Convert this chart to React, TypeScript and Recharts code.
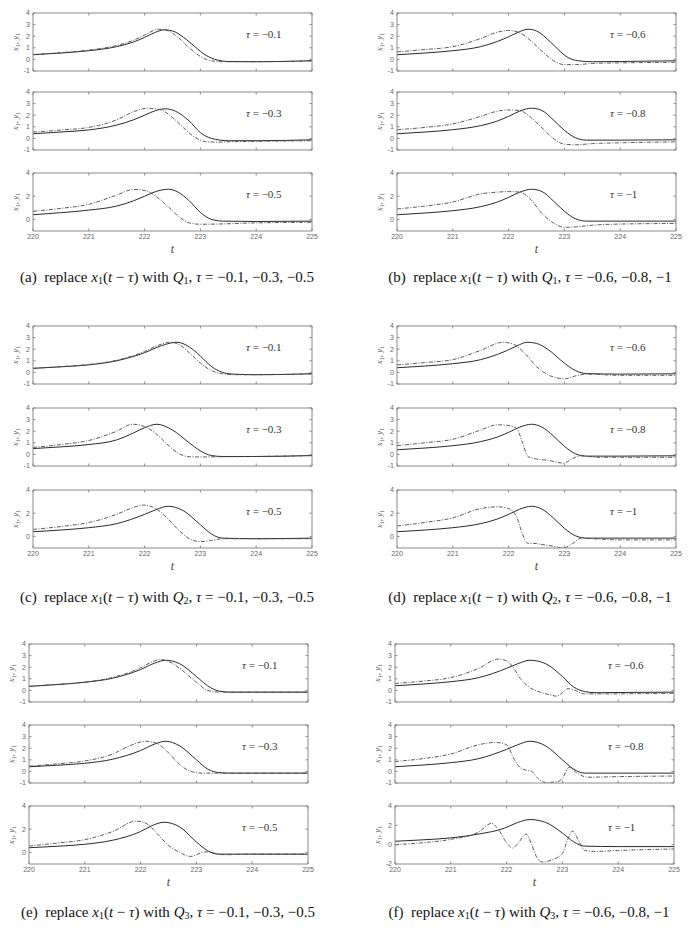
import React from 'react';
import { LineChart, Line, XAxis, YAxis } from 'recharts';

type Pt = [number, number];

const T_TICKS = [220, 221, 222, 223, 224, 225];
const Y_TICKS = [-1, 0, 1, 2, 3, 4];
const Y_TICKS_SPARSE = [0, 2, 4];
const Y_TICKS_WIDE = [-2, 0, 2, 4];
const TAUS_LOW = ['−0.1', '−0.3', '−0.5'];
const TAUS_HIGH = ['−0.6', '−0.8', '−1'];

// (a) Q1, tau = -0.1, -0.3, -0.5   (X = x1 solid, Y = y1 dash-dot)
const A1X: Pt[] = [[220, 0.4], [220.5, 0.55], [221, 0.75], [221.5, 1.1], [221.8, 1.5], [222, 1.9], [222.2, 2.35], [222.35, 2.55], [222.5, 2.45], [222.7, 1.9], [222.9, 1.1], [223.1, 0.35], [223.3, -0.05], [223.5, -0.18], [224, -0.2], [225, -0.12]];
const A1Y: Pt[] = [[220, 0.42], [220.5, 0.58], [221, 0.8], [221.5, 1.2], [221.8, 1.65], [222, 2.1], [222.25, 2.6], [222.4, 2.5], [222.6, 1.9], [222.8, 1.0], [223, 0.25], [223.2, -0.12], [223.4, -0.2], [224, -0.2], [225, -0.12]];
const A2X: Pt[] = [[220, 0.4], [220.5, 0.55], [221, 0.73], [221.5, 1.15], [221.8, 1.6], [222, 2.0], [222.2, 2.4], [222.37, 2.55], [222.55, 2.35], [222.8, 1.5], [223, 0.5], [223.2, 0.0], [223.5, -0.2], [224, -0.2], [225, -0.12]];
const A2Y: Pt[] = [[220, 0.55], [220.5, 0.72], [221, 0.95], [221.5, 1.6], [221.8, 2.3], [222.05, 2.6], [222.3, 2.45], [222.5, 1.8], [222.7, 0.9], [222.9, 0.1], [223.1, -0.28], [223.3, -0.32], [223.6, -0.28], [224, -0.25], [225, -0.2]];
const A3X: Pt[] = [[220, 0.4], [220.5, 0.58], [221, 0.8], [221.5, 1.15], [221.8, 1.6], [222, 2.0], [222.2, 2.4], [222.43, 2.6], [222.6, 2.35], [222.8, 1.6], [223, 0.6], [223.2, 0.0], [223.4, -0.15], [224, -0.18], [225, -0.15]];
const A3Y: Pt[] = [[220, 0.7], [220.5, 0.95], [221, 1.3], [221.5, 2.1], [221.8, 2.58], [222, 2.5], [222.2, 2.0], [222.4, 1.2], [222.6, 0.3], [222.8, -0.3], [223, -0.42], [223.3, -0.4], [224, -0.3], [225, -0.25]];

// (b) Q1, tau = -0.6, -0.8, -1
const B1X: Pt[] = [[220, 0.4], [220.5, 0.55], [221, 0.75], [221.5, 1.1], [221.8, 1.55], [222, 1.95], [222.2, 2.4], [222.35, 2.6], [222.5, 2.45], [222.75, 1.5], [222.9, 0.8], [223.05, 0.2], [223.25, -0.12], [223.5, -0.2], [224, -0.18], [225, -0.12]];
const B1Y: Pt[] = [[220, 0.65], [220.5, 0.85], [221, 1.1], [221.5, 1.8], [221.8, 2.35], [222, 2.5], [222.2, 2.3], [222.4, 1.6], [222.6, 0.7], [222.8, -0.1], [223, -0.45], [223.2, -0.45], [223.5, -0.35], [224, -0.3], [225, -0.25]];
const B2X: Pt[] = [[220, 0.4], [220.5, 0.55], [221, 0.75], [221.5, 1.1], [221.8, 1.5], [222, 1.9], [222.2, 2.35], [222.41, 2.6], [222.6, 2.4], [222.8, 1.6], [223, 0.7], [223.2, 0.05], [223.4, -0.15], [224, -0.15], [225, -0.12]];
const B2Y: Pt[] = [[220, 0.75], [220.5, 0.95], [221, 1.25], [221.5, 1.9], [221.8, 2.35], [222, 2.45], [222.2, 2.4], [222.4, 1.8], [222.6, 0.9], [222.8, 0.0], [223, -0.5], [223.2, -0.55], [223.5, -0.45], [224, -0.38], [225, -0.3]];
const B3X: Pt[] = [[220, 0.4], [220.5, 0.55], [221, 0.75], [221.5, 1.1], [221.8, 1.5], [222, 1.9], [222.2, 2.35], [222.41, 2.6], [222.6, 2.4], [222.8, 1.6], [223, 0.7], [223.2, 0.05], [223.4, -0.15], [224, -0.15], [225, -0.15]];
const B3Y: Pt[] = [[220, 0.9], [220.5, 1.15], [221, 1.5], [221.5, 2.2], [221.8, 2.35], [222, 2.4], [222.2, 2.35], [222.4, 1.7], [222.6, 0.5], [222.8, -0.3], [223, -0.68], [223.2, -0.65], [223.5, -0.5], [224, -0.4], [225, -0.35]];

// (c) Q2, tau = -0.1, -0.3, -0.5
const C1X: Pt[] = [[220, 0.35], [220.5, 0.48], [221, 0.65], [221.5, 1.0], [222, 1.7], [222.3, 2.3], [222.58, 2.6], [222.8, 2.2], [223, 1.4], [223.2, 0.5], [223.4, 0.0], [223.6, -0.15], [224, -0.2], [225, -0.12]];
const C1Y: Pt[] = [[220, 0.35], [220.5, 0.5], [221, 0.68], [221.5, 1.05], [222, 1.8], [222.25, 2.35], [222.46, 2.6], [222.65, 2.3], [222.8, 1.7], [223, 0.8], [223.2, 0.15], [223.4, -0.12], [223.6, -0.2], [224, -0.2], [225, -0.12]];
const C2X: Pt[] = [[220, 0.5], [220.5, 0.65], [221, 0.85], [221.5, 1.25], [221.8, 1.85], [222, 2.3], [222.22, 2.6], [222.5, 2.1], [222.8, 1.0], [223, 0.3], [223.2, -0.1], [223.4, -0.18], [224, -0.18], [225, -0.1]];
const C2Y: Pt[] = [[220, 0.6], [220.5, 0.85], [221, 1.2], [221.5, 2.0], [221.78, 2.6], [222, 2.4], [222.2, 1.8], [222.4, 0.9], [222.6, 0.1], [222.8, -0.2], [223, -0.22], [223.4, -0.2], [224, -0.18], [225, -0.1]];
const C3X: Pt[] = [[220, 0.4], [220.5, 0.55], [221, 0.75], [221.5, 1.1], [222, 1.9], [222.2, 2.3], [222.42, 2.6], [222.7, 2.2], [223, 1.0], [223.2, 0.2], [223.4, -0.15], [224, -0.2], [225, -0.15]];
const C3Y: Pt[] = [[220, 0.6], [220.5, 0.85], [221, 1.2], [221.5, 1.9], [221.8, 2.5], [221.98, 2.7], [222.2, 2.4], [222.4, 1.6], [222.6, 0.6], [222.8, -0.2], [223, -0.45], [223.2, -0.35], [223.4, -0.2], [224, -0.2], [225, -0.2]];

// (d) Q2, tau = -0.6, -0.8, -1
const D1X: Pt[] = [[220, 0.4], [220.5, 0.55], [221, 0.75], [221.5, 1.1], [221.8, 1.55], [222, 1.95], [222.2, 2.4], [222.33, 2.6], [222.5, 2.5], [222.7, 2.0], [223, 0.8], [223.2, 0.15], [223.4, -0.1], [224, -0.15], [225, -0.12]];
const D1Y: Pt[] = [[220, 0.65], [220.5, 0.85], [221, 1.1], [221.5, 1.9], [221.9, 2.6], [222.1, 2.4], [222.3, 1.6], [222.5, 0.5], [222.7, -0.2], [222.85, -0.45], [223, -0.55], [223.2, -0.3], [223.4, -0.15], [224, -0.25], [225, -0.25]];
const D2X: Pt[] = [[220, 0.4], [220.5, 0.55], [221, 0.75], [221.5, 1.1], [221.8, 1.5], [222, 1.9], [222.2, 2.35], [222.41, 2.6], [222.6, 2.35], [222.8, 1.6], [223, 0.7], [223.2, 0.05], [223.4, -0.15], [224, -0.15], [225, -0.12]];
const D2Y: Pt[] = [[220, 0.75], [220.5, 1.0], [221, 1.3], [221.5, 2.1], [221.8, 2.55], [222, 2.5], [222.15, 2.2], [222.25, 1.0], [222.35, -0.2], [222.5, -0.4], [222.7, -0.5], [222.98, -0.75], [223.15, -0.35], [223.3, -0.12], [223.6, -0.25], [224, -0.25], [225, -0.25]];
const D3X: Pt[] = [[220, 0.4], [220.5, 0.55], [221, 0.75], [221.5, 1.1], [221.8, 1.5], [222, 1.9], [222.2, 2.35], [222.41, 2.6], [222.6, 2.35], [222.8, 1.6], [223, 0.7], [223.2, 0.05], [223.4, -0.15], [224, -0.15], [225, -0.15]];
const D3Y: Pt[] = [[220, 0.9], [220.5, 1.2], [221, 1.6], [221.5, 2.4], [221.8, 2.55], [222, 2.4], [222.15, 1.6], [222.25, 0.2], [222.35, -0.6], [222.45, -0.6], [222.6, -0.7], [222.8, -0.85], [222.98, -1.0], [223.15, -0.6], [223.3, -0.15], [223.5, -0.2], [224, -0.3], [225, -0.3]];

// (e) Q3, tau = -0.1, -0.3, -0.5
const E1X: Pt[] = [[220, 0.35], [220.5, 0.5], [221, 0.7], [221.5, 1.05], [222, 1.8], [222.25, 2.35], [222.45, 2.6], [222.7, 2.3], [223, 1.2], [223.2, 0.4], [223.4, -0.05], [223.6, -0.15], [224, -0.15], [225, -0.15]];
const E1Y: Pt[] = [[220, 0.35], [220.5, 0.52], [221, 0.72], [221.5, 1.12], [222, 1.95], [222.2, 2.45], [222.35, 2.65], [222.5, 2.5], [222.7, 1.9], [223, 0.7], [223.2, 0.0], [223.4, -0.15], [224, -0.15], [225, -0.15]];
const E2X: Pt[] = [[220, 0.4], [220.5, 0.53], [221, 0.7], [221.5, 1.05], [222, 1.8], [222.25, 2.35], [222.45, 2.6], [222.7, 2.2], [223, 1.0], [223.2, 0.2], [223.4, -0.1], [223.6, -0.15], [225, -0.15]];
const E2Y: Pt[] = [[220, 0.45], [220.5, 0.65], [221, 0.9], [221.5, 1.5], [221.8, 2.2], [222.1, 2.6], [222.3, 2.4], [222.5, 1.6], [222.7, 0.6], [222.9, 0.0], [223.1, -0.15], [223.3, -0.15], [225, -0.15]];
const E3X: Pt[] = [[220, 0.4], [220.5, 0.53], [221, 0.7], [221.5, 1.05], [222, 1.8], [222.2, 2.3], [222.42, 2.6], [222.7, 2.2], [223, 0.9], [223.2, 0.15], [223.4, -0.15], [224, -0.15], [225, -0.15]];
const E3Y: Pt[] = [[220, 0.55], [220.5, 0.8], [221, 1.1], [221.5, 1.8], [221.92, 2.7], [222.1, 2.5], [222.3, 1.6], [222.5, 0.6], [222.7, 0.0], [222.9, -0.35], [223, -0.2], [223.15, 0.05], [223.3, -0.05], [223.5, -0.2], [224, -0.15], [225, -0.15]];

// (f) Q3, tau = -0.6, -0.8, -1
const F1X: Pt[] = [[220, 0.4], [220.5, 0.55], [221, 0.75], [221.5, 1.1], [222, 1.9], [222.2, 2.3], [222.42, 2.6], [222.7, 2.3], [223, 1.2], [223.2, 0.3], [223.4, -0.1], [223.6, -0.2], [224, -0.18], [225, -0.15]];
const F1Y: Pt[] = [[220, 0.6], [220.5, 0.8], [221, 1.1], [221.5, 1.9], [221.85, 2.7], [222, 2.55], [222.1, 2.1], [222.25, 1.0], [222.4, 0.3], [222.6, -0.15], [222.8, -0.4], [222.9, -0.5], [223, -0.2], [223.1, 0.15], [223.2, 0.05], [223.4, -0.3], [223.7, -0.3], [225, -0.25]];
const F2X: Pt[] = [[220, 0.4], [220.5, 0.55], [221, 0.75], [221.5, 1.1], [222, 1.9], [222.2, 2.3], [222.42, 2.6], [222.7, 2.2], [223, 1.0], [223.2, 0.2], [223.4, -0.15], [224, -0.15], [225, -0.15]];
const F2Y: Pt[] = [[220, 0.85], [220.5, 1.1], [221, 1.5], [221.5, 2.3], [221.8, 2.5], [222, 2.3], [222.14, 1.0], [222.25, 0.3], [222.35, 0.1], [222.45, 0.0], [222.56, -0.6], [222.7, -0.95], [222.9, -0.9], [223, -0.6], [223.12, 0.35], [223.25, -0.1], [223.45, -0.5], [224, -0.45], [225, -0.4]];
const F3X: Pt[] = [[220, 0.35], [220.5, 0.5], [221, 0.7], [221.5, 1.1], [221.96, 1.7], [222.2, 2.3], [222.42, 2.6], [222.7, 2.3], [223, 1.2], [223.2, 0.3], [223.4, -0.15], [224, -0.2], [225, -0.2]];
const F3Y: Pt[] = [[220, 0.0], [220.5, 0.2], [221, 0.55], [221.5, 1.3], [221.73, 2.2], [221.85, 1.6], [222, 0.2], [222.11, -0.35], [222.2, 0.1], [222.35, 1.1], [222.45, 0.0], [222.55, -1.4], [222.65, -1.8], [222.8, -1.6], [223, -0.9], [223.1, 0.6], [223.18, 1.4], [223.3, 0.3], [223.4, -0.6], [223.6, -0.7], [224, -0.6], [225, -0.45]];

// layout
const BOX_W = 279;
const BOX_H = 58;
const ROW1 = [13, 92, 173];
const ROW2 = [326, 408, 490];
const ROW3 = [644, 725, 806];

const AXIS = '#8a8a8a';
const TICK_TXT = '#666';
const SERIF = '"Liberation Serif", "Times New Roman", serif';
const SANS = '"Liberation Sans", Arial, sans-serif';

const PANELS = [
  { id: 'a', q: '1', taus: TAUS_LOW, left: 33, tops: ROW1, capX: 167, capY: 278, series: [[A1X, A1Y], [A2X, A2Y], [A3X, A3Y]] },
  { id: 'b', q: '1', taus: TAUS_HIGH, left: 397, tops: ROW1, capX: 530, capY: 278, series: [[B1X, B1Y], [B2X, B2Y], [B3X, B3Y]] },
  { id: 'c', q: '2', taus: TAUS_LOW, left: 33, tops: ROW2, capX: 167, capY: 598, series: [[C1X, C1Y], [C2X, C2Y], [C3X, C3Y]] },
  { id: 'd', q: '2', taus: TAUS_HIGH, left: 397, tops: ROW2, capX: 530, capY: 598, series: [[D1X, D1Y], [D2X, D2Y], [D3X, D3Y]] },
  { id: 'e', q: '3', taus: TAUS_LOW, left: 29, tops: ROW3, capX: 168, capY: 913, series: [[E1X, E1Y], [E2X, E2Y], [E3X, E3Y]] },
  { id: 'f', q: '3', taus: TAUS_HIGH, left: 395, tops: ROW3, capX: 529, capY: 913, series: [[F1X, F1Y], [F2X, F2Y], [F3X, F3Y]] },
];

const toRows = (pts: Pt[]) => pts.map(([t, y]) => ({ t, y }));
const blank = () => '';

interface SubProps {
  left: number;
  top: number;
  solid: Pt[];
  dash: Pt[];
  tau: string;
  showX: boolean;
  yDomain: [number, number];
  yTicks: number[];
}

function SubPlot({ left, top, solid, dash, tau, showX, yDomain, yTicks }: SubProps) {
  // axis strips around the plot box; the box itself is BOX_W x BOX_H
  const YW = 24;
  const RW = 12;
  const TH = 6;
  const BH = 14;
  const tickFont = { fontSize: 7, fill: TICK_TXT, fontFamily: SANS };
  return (
    <>
      <div style={{ position: 'absolute', left: left - YW, top: top - TH }}>
        <LineChart width={BOX_W + YW + RW} height={BOX_H + TH + BH} margin={{ top: 0, right: 0, bottom: 0, left: 0 }}>
          <XAxis xAxisId="b" type="number" dataKey="t" domain={[220, 225]} ticks={T_TICKS} allowDataOverflow interval={0}
            height={BH} tickSize={-2.5} tickMargin={5.5} stroke={AXIS} tick={tickFont}
            tickFormatter={showX ? undefined : blank} />
          <XAxis xAxisId="t" orientation="top" type="number" dataKey="t" domain={[220, 225]} ticks={T_TICKS} allowDataOverflow
            interval={0} height={TH} tickSize={-2.5} stroke={AXIS} tick={tickFont} tickFormatter={blank} />
          <YAxis yAxisId="l" type="number" domain={yDomain} ticks={yTicks} allowDataOverflow interval={0}
            width={YW} tickSize={-2.5} tickMargin={5.5} stroke={AXIS} tick={tickFont} />
          <YAxis yAxisId="r" orientation="right" type="number" domain={yDomain} ticks={yTicks} allowDataOverflow interval={0}
            width={RW} tickSize={-2.5} stroke={AXIS} tick={tickFont} tickFormatter={blank} />
          <Line xAxisId="b" yAxisId="l" data={toRows(solid)} dataKey="y" type="monotone" stroke="#2a2a2a"
            strokeWidth={1} dot={false} isAnimationActive={false} />
          <Line xAxisId="b" yAxisId="l" data={toRows(dash)} dataKey="y" type="monotone" stroke="#4a4a4a"
            strokeWidth={0.9} strokeDasharray="4 1.5 1 1.5" dot={false} isAnimationActive={false} />
        </LineChart>
      </div>
      <div style={{ position: 'absolute', left: left - 17, top: top + BOX_H / 2, transform: 'translate(-50%, -50%) rotate(-90deg)',
        fontFamily: SERIF, fontSize: 9, color: '#555', whiteSpace: 'nowrap', lineHeight: 1 }}>
        <i>x</i><sub style={{ fontSize: 6, verticalAlign: '-0.2em' }}>1</sub>, <i>y</i><sub style={{ fontSize: 6, verticalAlign: '-0.2em' }}>1</sub>
      </div>
      <div style={{ position: 'absolute', left: left + 213, top: top + 21, transform: 'translateY(-50%)',
        fontFamily: SERIF, fontSize: 11, color: '#333', whiteSpace: 'nowrap', lineHeight: 1 }}>
        <i>τ</i> = {tau}
      </div>
    </>
  );
}

export default function App() {
  return (
    <div style={{ position: 'absolute', left: 0, top: 0, width: 692, height: 933, background: '#fff', overflow: 'hidden' }}>
      {PANELS.map((p) => (
        <React.Fragment key={p.id}>
          {p.series.map(([solid, dash], i) => {
            const last = i === 2;
            const wide = p.id === 'f' && last;
            return (
              <SubPlot key={i} left={p.left} top={p.tops[i]} solid={solid} dash={dash} tau={p.taus[i]} showX={last}
                yDomain={wide ? [-2, 4] : [-1, 4]} yTicks={wide ? Y_TICKS_WIDE : last ? Y_TICKS_SPARSE : Y_TICKS} />
            );
          })}
          <div style={{ position: 'absolute', left: p.left + BOX_W / 2, top: p.tops[2] + BOX_H + 18, transform: 'translate(-50%, -50%)',
            fontFamily: SERIF, fontStyle: 'italic', fontSize: 12, color: '#444', lineHeight: 1 }}>t</div>
          <div style={{ position: 'absolute', left: p.capX, top: p.capY, transform: 'translate(-50%, -50%)',
            fontFamily: SERIF, fontSize: 15, color: '#111', whiteSpace: 'nowrap', lineHeight: 1 }}>
            ({p.id})&nbsp; replace <i>x</i><sub style={{ fontSize: 10, verticalAlign: '-0.25em' }}>1</sub>(<i>t</i> − <i>τ</i>) with{' '}
            <i>Q</i><sub style={{ fontSize: 10, verticalAlign: '-0.25em' }}>{p.q}</sub>, <i>τ</i> = {p.taus.join(', ')}
          </div>
        </React.Fragment>
      ))}
    </div>
  );
}
